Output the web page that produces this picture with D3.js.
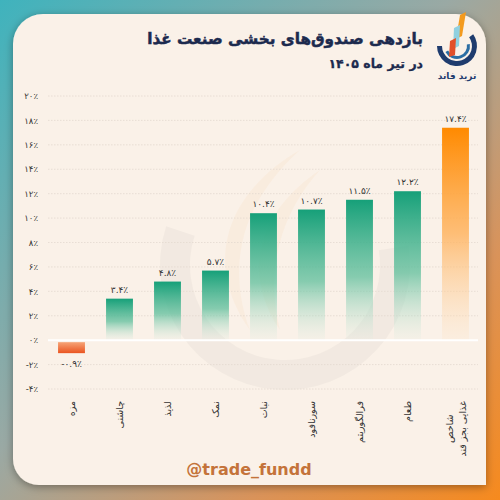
<!DOCTYPE html>
<html><head><meta charset="utf-8">
<script src="https://cdn.jsdelivr.net/npm/d3@7"></script>
<style>html,body{margin:0;padding:0;background:#fff;}svg{display:block;}</style>
</head><body>
<svg id="c" width="500" height="500"></svg>
<script>
const categories = ["مزه","چاشنی","لذیذ","نمک","نبات","سورنافود","فرالگوریتم","طعام","شاخص\nغذایی بجز قند"];
const values = [-0.9, 3.4, 4.8, 5.7, 10.4, 10.7, 11.5, 12.2, 17.4];
const yTicks = [-4,-2,0,2,4,6,8,10,12,14,16,18,20];
const titleText = "بازدهی صندوق‌های بخشی صنعت غذا";
const subtitleText = "در تیر ماه ۱۴۰۵";
const brandText = "ترید فاند";
const footerText = "@trade_fundd";

const fa = s => String(s).replace(/\d/g, d => "۰۱۲۳۴۵۶۷۸۹"[d]);
const pct = v => fa(v.toFixed(Number.isInteger(v) ? 0 : 1)) + "٪";

const svg = d3.select("#c");
const defs = svg.append("defs");

// background gradient
const bg = defs.append("linearGradient").attr("id","bg").attr("x1","0").attr("y1","0").attr("x2","1").attr("y2","1");
bg.append("stop").attr("offset","0").attr("stop-color","#3fb3bd");
bg.append("stop").attr("offset","0.45").attr("stop-color","#9aa9a4");
bg.append("stop").attr("offset","0.75").attr("stop-color","#d9935a");
bg.append("stop").attr("offset","1").attr("stop-color","#f68a1e");
svg.append("rect").attr("width",500).attr("height",500).attr("fill","url(#bg)");

const sh = defs.append("filter").attr("id","sh").attr("x","-10%").attr("y","-10%").attr("width","120%").attr("height","120%");
sh.append("feDropShadow").attr("dx",0).attr("dy",2).attr("stdDeviation",4).attr("flood-color","#000").attr("flood-opacity",0.35);

// card
const L=13,T=14,R=486,B=485,r1=30,r2=30,r3=26;
const card = `M${L+r1},${T} H${R-r2} A${r2},${r2} 0 0 1 ${R},${T+r2} V${B} H${L+r3} A${r3},${r3} 0 0 1 ${L},${B-r3} V${T+r1} A${r1},${r1} 0 0 1 ${L+r1},${T} Z`;
svg.append("path").attr("d",card).attr("fill","#faf1e8").attr("filter","url(#sh)");

// faint watermark
const wm = svg.append("g").attr("opacity",0.045);
wm.append("path").attr("d",d3.arc().innerRadius(95).outerRadius(125).startAngle(Math.PI*0.45).endAngle(Math.PI*1.6)())
  .attr("transform","translate(285,265)").attr("fill","#555");
wm.append("path").attr("d","M300,150 C230,190 200,260 250,330 C225,260 245,200 300,150 Z").attr("fill","#f08a1e");
wm.append("path").attr("d","M320,170 C260,210 240,270 280,330 C265,270 280,215 320,170 Z").attr("fill","#f08a1e");

// scales
const x = d3.scaleBand().domain(d3.range(categories.length)).range([47.5,479.5]).paddingInner(0.44).paddingOuter(0.22);
const y = d3.scaleLinear().domain([-4,20]).range([389,96]);

// grid
svg.append("g").selectAll("line").data(yTicks.filter(t=>t!==0)).join("line")
  .attr("x1",48).attr("x2",478).attr("y1",d=>y(d)).attr("y2",d=>y(d))
  .attr("stroke","#e3d9cf").attr("stroke-width",0.8).attr("stroke-dasharray","1.5,1.5");

// y axis labels
const yAxis = d3.axisLeft(y).tickValues(yTicks).tickSize(0).tickPadding(0).tickFormat(pct);
const ya = svg.append("g").attr("transform","translate(38,0)").call(yAxis);
ya.select(".domain").remove();
ya.selectAll("text").attr("font-family","DejaVu Sans").attr("font-size",8.5).attr("fill","#333").attr("direction","ltr");

// gradients
function grad(id, stops){
  const g = defs.append("linearGradient").attr("id",id).attr("x1",0).attr("y1",0).attr("x2",0).attr("y2",1);
  stops.forEach(s=>g.append("stop").attr("offset",s[0]).attr("stop-color",s[1]).attr("stop-opacity",s[2]));
}
grad("gGreen",[[0,"#16a079",1],[0.55,"#5fbf9c",0.75],[1,"#d9ece0",0.15]]);
grad("gOrange",[[0,"#ff8a00",1],[0.5,"#ffb15a",0.8],[1,"#fde6cc",0.3]]);
grad("gNeg",[[0,"#f6a477",1],[1,"#ea5420",1]]);

const colorOf = (v,i) => v<0 ? "url(#gNeg)" : (i===values.length-1 ? "url(#gOrange)" : "url(#gGreen)");

svg.append("g").selectAll("rect").data(values).join("rect")
  .attr("x",(d,i)=>x(i)).attr("width",x.bandwidth())
  .attr("y",d=>d>=0?y(d):y(0)+2).attr("height",d=>Math.abs(y(d)-y(0)))
  .attr("fill",(d,i)=>colorOf(d,i));

// zero line
svg.append("line").attr("x1",48).attr("x2",478).attr("y1",y(0)).attr("y2",y(0)).attr("stroke","#ffffff").attr("stroke-width",2);

// value labels
svg.append("g").selectAll("text").data(values).join("text")
  .attr("x",(d,i)=>x(i)+x.bandwidth()/2)
  .attr("y",d=>d>=0?y(d)-6:y(d)+16)
  .attr("text-anchor","middle").attr("direction","ltr")
  .attr("font-family","DejaVu Sans").attr("font-size",9).attr("fill","#333")
  .text(pct);

// x labels
const xl = svg.append("g");
categories.forEach((c,i)=>{
  const lines = c.split("\n");
  const cx = x(i)+x.bandwidth()/2;
  const g = xl.append("g");
  const n = lines.length;
  const texts = lines.map((ln,k)=>g.append("text").attr("font-family","DejaVu Sans").attr("font-size",9.5).attr("fill","#333").text(ln));
  const lens = texts.map(t=>t.node().getComputedTextLength());
  const maxL = d3.max(lens);
  texts.forEach((t,k)=>{
    const px = cx + (k-(n-1)/2)*13 + 3.5;
    const cy = 401 + maxL/2;
    t.attr("text-anchor","middle").attr("transform",`translate(${px},${cy}) rotate(-90)`);
  });
});

// title
const tt = svg.append("text").attr("x",423).attr("y",44).attr("text-anchor","start").attr("direction","rtl")
  .attr("font-family","DejaVu Sans").attr("font-weight","bold").attr("font-size",18).attr("fill","#1c2a4e")
  .attr("stroke","#1c2a4e").attr("stroke-width",0.5).text(titleText);
const tl = tt.node().getComputedTextLength();
tt.attr("font-size", 18*276/tl);
svg.append("text").attr("x",423).attr("y",68).attr("text-anchor","start").attr("direction","rtl")
  .attr("font-family","DejaVu Sans").attr("font-weight","bold").attr("font-size",12.5).attr("fill","#1c2a4e")
  .attr("stroke","#1c2a4e").attr("stroke-width",0.3).text(subtitleText);

// logo
const lg = svg.append("g").attr("transform","translate(457,46)");
lg.append("path").attr("d",d3.arc().innerRadius(15).outerRadius(20).startAngle(Math.PI*0.3).endAngle(Math.PI*1.5)()).attr("fill","#1f3c6e");
lg.append("path").attr("d",d3.arc().innerRadius(10).outerRadius(13).startAngle(Math.PI*0.45).endAngle(Math.PI*1.35)()).attr("fill","#2c6ea3");
lg.append("path").attr("d","M3,-31 L9,-34 L5,-10 L-1,-7 Z").attr("fill","#f39a1e");
lg.append("path").attr("d","M-3,-18 L3,-21 L2,0 L-4,3 Z").attr("fill","#8fd0e0");
lg.append("path").attr("d","M-7,-5 L-1,-8 L-2,9 L-8,11 Z").attr("fill","#e2502a");
svg.append("text").attr("x",457).attr("y",79).attr("text-anchor","middle").attr("direction","rtl")
  .attr("font-family","DejaVu Sans").attr("font-weight","bold").attr("font-size",9).attr("fill","#1f3c6e").text(brandText);

// footer
svg.append("text").attr("x",249).attr("y",475).attr("text-anchor","middle")
  .attr("font-family","DejaVu Sans").attr("font-weight","bold").attr("font-size",16).attr("fill","#c4733a").text(footerText);
</script>
</body></html>
